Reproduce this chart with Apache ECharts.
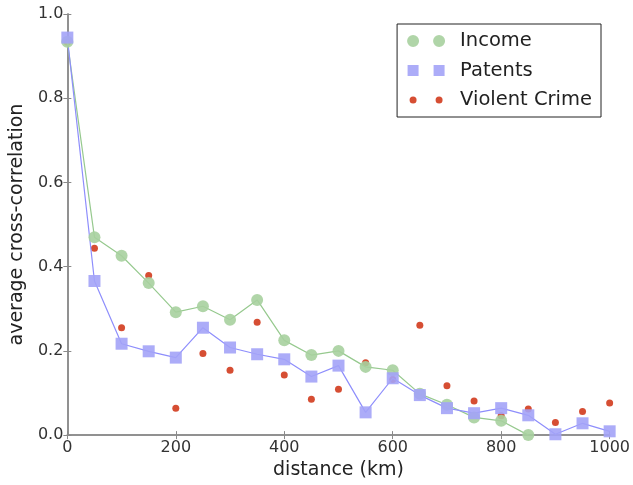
<!DOCTYPE html>
<html>
<head>
<meta charset="utf-8">
<script src="https://cdn.jsdelivr.net/npm/echarts@6/dist/echarts.min.js"></script>
<style>
html,body{margin:0;padding:0;background:#fff;}
#chart{width:633px;height:485px;}
</style>
</head>
<body>
<div id="chart"></div>
<script>
var distances = [0,50,100,150,200,250,300,350,400,450,500,550,600,650,700,750,800,850,900,950,1000];
var income = [0.934,0.470,0.426,0.361,0.292,0.306,0.274,0.321,0.225,0.190,0.200,0.162,0.154,0.098,0.072,0.042,0.034,0.0];
var patents = [0.944,0.366,0.217,0.199,0.184,0.255,0.208,0.192,0.180,0.139,0.165,0.054,0.135,0.095,0.064,0.052,0.064,0.047,0.002,0.028,0.009];
var crime = [0.933,0.444,0.255,0.379,0.064,0.194,0.154,0.268,0.143,0.085,0.109,0.172,0.132,0.261,0.117,0.081,0.046,0.062,0.030,0.056,0.076];
var xTicks = [0,200,400,600,800,1000];
var yTicks = [0.0,0.2,0.4,0.6,0.8,1.0];

function pairs(vals){ return vals.map(function(v,i){ return [distances[i], v]; }); }

var FONT = 'DejaVu Sans';
var axisCol = '#8a8a8a';
var anchors = ' M0,0 L0.01,0 L0.01,0.01 Z M38,12 L37.99,12 L37.99,11.99 Z';
var iconCircle = 'path://M0,6 A6,6 0 1,0 12,6 A6,6 0 1,0 0,6 Z M26,6 A6,6 0 1,0 38,6 A6,6 0 1,0 26,6 Z' + anchors;
var iconSquare = 'path://M0.5,0.5 L11.5,0.5 L11.5,11.5 L0.5,11.5 Z M26.5,0.5 L37.5,0.5 L37.5,11.5 L26.5,11.5 Z' + anchors;
var iconDot = 'path://M2.5,6 A3.5,3.5 0 1,0 9.5,6 A3.5,3.5 0 1,0 2.5,6 Z M28.5,6 A3.5,3.5 0 1,0 35.5,6 A3.5,3.5 0 1,0 28.5,6 Z' + anchors;

var chart = echarts.init(document.getElementById('chart'), null, {renderer:'canvas'});
chart.setOption({
  animation: false,
  backgroundColor: '#fff',
  textStyle: {fontFamily: FONT},
  grid: {left: 66, top: 14, right: 23, bottom: 48, containLabel: false},
  legend: {
    orient: 'vertical',
    right: 32, top: 24,
    padding: [7, 9, 7, 10],
    itemWidth: 38, itemHeight: 12, itemGap: 9.5,
    borderColor: '#222', borderWidth: 1,
    backgroundColor: '#fff',
    itemStyle: {borderWidth: 0},
    textStyle: {fontFamily: FONT, fontSize: 19.5, color: '#222', padding: [0,0,0,10], lineHeight: 20},
    data: [
      {name: 'Income', icon: iconCircle},
      {name: 'Patents', icon: iconSquare},
      {name: 'Violent Crime', icon: iconDot}
    ]
  },
  xAxis: [{
    type: 'value', min: 0, max: 1000, interval: 200,
    name: 'distance (km)', nameLocation: 'middle', nameGap: 25,
    nameTextStyle: {fontFamily: FONT, fontSize: 19, color: '#222'},
    axisLine: {show: true, lineStyle: {color: axisCol, width: 1.5}},
    axisTick: {show: true, inside: true, length: 4, lineStyle: {color: axisCol}},
    axisLabel: {fontFamily: FONT, fontSize: 16, color: '#333', margin: 5,
      formatter: function(v){ return String(v); }},
    splitLine: {show: false}
  },{
    type: 'value', min: 0, max: 1000, interval: 200, position: 'top',
    axisLine: {show: true, lineStyle: {color: axisCol, width: 1.5}},
    axisTick: {show: true, inside: true, length: 4, lineStyle: {color: axisCol}},
    axisLabel: {show: false}, splitLine: {show: false}
  }],
  yAxis: [{
    type: 'value', min: 0, max: 1.0, interval: 0.2,
    name: 'average cross-correlation', nameLocation: 'middle', nameGap: 39,
    nameTextStyle: {fontFamily: FONT, fontSize: 19, color: '#222'},
    axisLine: {show: true, lineStyle: {color: axisCol, width: 1.5}},
    axisTick: {show: true, inside: true, length: 4, lineStyle: {color: axisCol}},
    axisLabel: {fontFamily: FONT, fontSize: 16, color: '#333', margin: 4,
      formatter: function(v){ return v.toFixed(1); }},
    splitLine: {show: false}
  },{
    type: 'value', min: 0, max: 1.0, interval: 0.2, position: 'right',
    axisLine: {show: true, lineStyle: {color: axisCol, width: 1.5}},
    axisTick: {show: true, inside: true, length: 4, lineStyle: {color: axisCol}},
    axisLabel: {show: false}, splitLine: {show: false}
  }],
  series: [
    {
      name: 'Income', type: 'line', data: pairs(income),
      symbol: 'circle', symbolSize: 12, showAllSymbol: true, clip: true,
      itemStyle: {color: '#a7d09f', opacity: 0.9},
      lineStyle: {color: '#96c98e', width: 1.2}
    },
    {
      name: 'Patents', type: 'line', data: pairs(patents),
      symbol: 'rect', symbolSize: 12, showAllSymbol: true, clip: true,
      itemStyle: {color: '#a3a3f7', opacity: 0.9},
      lineStyle: {color: '#8e8efc', width: 1.2}
    },
    {
      name: 'Violent Crime', type: 'scatter', data: pairs(crime),
      symbol: 'circle', symbolSize: 7, clip: true,
      itemStyle: {color: '#cc2200'}
    }
  ]
});
</script>
</body>
</html>
